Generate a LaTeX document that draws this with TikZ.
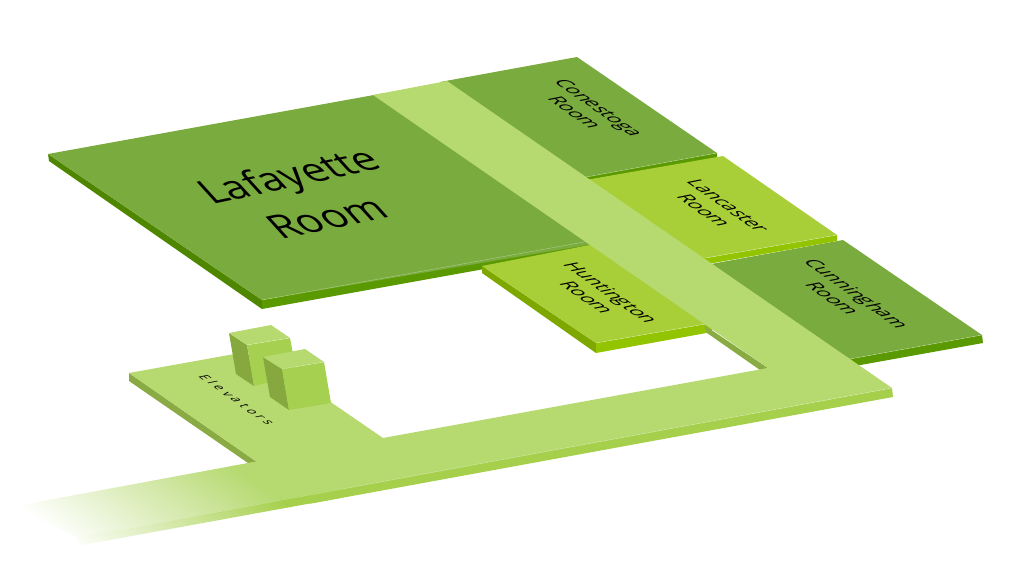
\documentclass[tikz,border=0pt]{standalone}
\usepackage{fontspec}
\setmainfont{Open Sans}
\newfontfamily\spacedfont[LetterSpace=30]{Open Sans}
\definecolor{corrtop}{HTML}{B6D970}
\definecolor{corrside}{HTML}{A6D04C}
\definecolor{corrleft}{HTML}{8AAB43}
\definecolor{roomA}{HTML}{7AAB3E}
\definecolor{roomAfront}{HTML}{5A9A00}
\definecolor{roomAleft}{HTML}{4F8600}
\definecolor{roomB}{HTML}{A9CF38}
\definecolor{roomBfront}{HTML}{93C400}
\definecolor{roomBleft}{HTML}{7EA800}
\definecolor{elevtop}{HTML}{B6D970}
\definecolor{elevright}{HTML}{A6D04F}
\definecolor{elevleft}{HTML}{86A83F}
\tikzset{
  x=0.75pt,y=-0.75pt,
  hl/.style={draw=white,draw opacity=.4,line width=.3pt},
  alongU/.style={cm={1,.21,-.68,.75,(0,0)},transform shape,align=center,inner sep=0pt,text=black},
  alongV/.style={cm={.82,-.58,1,.2,(0,0)},transform shape,align=center,inner sep=0pt,text=black},
  fadeaxis/.style={transform canvas={rotate around={54:(10,507)}}}
}
\begin{document}
\begin{tikzpicture}
\useasboundingbox (0,0) rectangle (1014,564);
% Lafayette
\fill[roomAleft] (48,154) -- (262,300) -- (262,309) -- (49,161) -- cycle;
\fill[roomAfront] (262,300) -- (590,241) -- (590,250) -- (262,309) -- cycle;
\fill[roomA] (48,154) -- (385,93) -- (600,243) -- (262,300) -- cycle;
\draw[hl] (262,300) -- (590,241);
% Conestoga
\fill[roomAfront] (580,178) -- (717,153) -- (717,158) -- (590,181) -- cycle;
\fill[roomA] (440,82) -- (577,57) -- (717,153) -- (580,178) -- cycle;
\draw[hl] (587,177) -- (717,153);
% Cunningham
\fill[roomAfront] (850,359) -- (982,335) -- (983,343) -- (855,366) -- cycle;
\fill[roomA] (700,266) -- (843,240) -- (982,335) -- (850,359) -- cycle;
\draw[hl] (850,359) -- (982,335);
% Lancaster
\fill[roomBfront] (695,260) -- (837,235) -- (837,241) -- (708,264) -- cycle;
\fill[roomB] (580,181) -- (723,156) -- (837,235) -- (695,260) -- cycle;
\draw[hl] (705,258) -- (837,235);
% Huntington
\fill[roomBleft] (482,266) -- (596,343) -- (596,353) -- (482,273) -- cycle;
\fill[roomBfront] (596,343) -- (712,323) -- (712,332) -- (596,353) -- cycle;
\fill[roomB] (482,266) -- (600,243) -- (712,323) -- (596,343) -- cycle;
\draw[hl] (596,343) -- (705,324);
% corridor sides
\fill[corrleft] (704,325) -- (768,368) -- (760,370) -- (707,333) -- cycle;
\fill[corrleft] (129,373) -- (257,462) -- (248,463) -- (129,381) -- cycle;
\fill[corrside] (310,494.5) -- (892,388) -- (893,397) -- (310,503.7) -- cycle;
% corridor top
\fill[corrtop] (373,95) -- (447,81) -- (892,388) -- (310,495) -- (275,470) -- (257,462)
  -- (129,373) -- (240,353) -- (270,370) -- (332,403) -- (383,438) -- (768,368) -- cycle;
% fading end of the corridor
\begin{scope}
  \clip (10,507) -- (248,463) -- (340,446) -- (340,489.5) -- (78,537.5) -- cycle;
  \begin{scope}[fadeaxis]
    \shade[left color=white,right color=corrtop] (15,307) rectangle (175,807);
    \fill[corrtop] (174,307) rectangle (400,807);
  \end{scope}
\end{scope}
\begin{scope}
  \clip (78,537) -- (340,489) -- (340,498) -- (77,546) -- cycle;
  \begin{scope}[fadeaxis]
    \shade[left color=white,right color=corrside] (15,307) rectangle (175,807);
    \fill[corrside] (174,307) rectangle (400,807);
  \end{scope}
\end{scope}
\draw[hl] (120,529.8) -- (892,388);
% back elevator
\fill[elevleft] (229,333) -- (247,345) -- (254,386) -- (236,374) -- cycle;
\fill[elevright] (247,345) -- (290,338) -- (297,375) -- (254,386) -- cycle;
\fill[elevtop] (229,333) -- (271,325) -- (290,338) -- (247,345) -- cycle;
\draw[hl] (247,345) -- (290,338);
% front elevator
\fill[elevleft] (263,357) -- (282,369) -- (289,410) -- (270,397) -- cycle;
\fill[elevright] (282,369) -- (324,362) -- (331,403) -- (289,410) -- cycle;
\fill[elevtop] (263,357) -- (305,349) -- (324,362) -- (282,369) -- cycle;
\draw[hl] (282,369) -- (324,362);
% labels
\node[alongU,font=\fontsize{30}{42}\selectfont] (lafayette) at (307,196) {Lafayette\\Room};
\node[alongV,font=\fontsize{14.5}{18}\selectfont] (conestoga) at (587,110) {Conestoga\\Room};
\node[alongV,font=\fontsize{14.5}{18}\selectfont] (lancaster) at (716,208) {Lancaster\\Room};
\node[alongV,font=\fontsize{14.5}{18}\selectfont] (huntington) at (599,295) {Huntington\\Room};
\node[alongV,font=\fontsize{14.5}{18}\selectfont] (cunningham) at (845,296) {Cunningham\\Room};
\node[alongV,font=\spacedfont\fontsize{9.5}{11}\selectfont] (elevators) at (237,400) {Elevators};
\end{tikzpicture}
\end{document}
